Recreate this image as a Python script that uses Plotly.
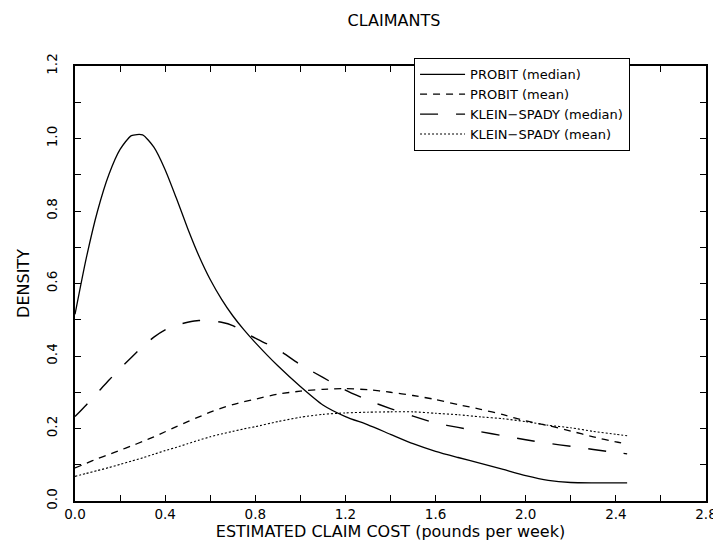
import plotly.graph_objects as go

# ---- data ----
cost = [0.0, 0.05, 0.1, 0.15, 0.2, 0.25, 0.3, 0.35, 0.4, 0.45, 0.5, 0.55, 0.6,
        0.65, 0.7, 0.75, 0.8, 0.9, 1.0, 1.1, 1.2, 1.3, 1.4, 1.5, 1.6, 1.7, 1.8,
        1.9, 2.0, 2.1, 2.2, 2.3, 2.4, 2.45]

probit_median = [0.515, 0.670, 0.800, 0.900, 0.970, 1.008, 1.010, 0.976, 0.914,
                 0.835, 0.752, 0.676, 0.611, 0.557, 0.511, 0.472, 0.437,
                 0.373, 0.316, 0.265, 0.233, 0.210, 0.184, 0.158, 0.137, 0.120,
                 0.104, 0.087, 0.070, 0.057, 0.051, 0.050, 0.050, 0.050]

probit_mean = [0.091, 0.104, 0.117, 0.128, 0.140, 0.152, 0.164, 0.177, 0.191,
               0.205, 0.219, 0.232, 0.245, 0.256, 0.266, 0.274, 0.281,
               0.295, 0.303, 0.308, 0.310, 0.307, 0.300, 0.291, 0.280, 0.266,
               0.253, 0.238, 0.221, 0.208, 0.193, 0.177, 0.163, 0.158]

ks_median = [0.233, 0.265, 0.299, 0.333, 0.365, 0.396, 0.426, 0.452, 0.472,
             0.485, 0.493, 0.498, 0.497, 0.493, 0.484, 0.466, 0.449,
             0.418, 0.376, 0.341, 0.306, 0.278, 0.255, 0.234, 0.215, 0.203,
             0.191, 0.180, 0.169, 0.159, 0.151, 0.142, 0.134, 0.130]

ks_mean = [0.068, 0.076, 0.084, 0.092, 0.101, 0.110, 0.119, 0.129, 0.139,
           0.148, 0.158, 0.168, 0.177, 0.185, 0.192, 0.199, 0.205,
           0.219, 0.231, 0.239, 0.243, 0.245, 0.246, 0.246, 0.242, 0.238,
           0.232, 0.227, 0.219, 0.209, 0.202, 0.192, 0.184, 0.180]

series_names = ["PROBIT (median)", "PROBIT (mean)",
                "KLEIN\u2212SPADY (median)", "KLEIN\u2212SPADY (mean)"]

x_ticks = [0.0, 0.2, 0.4, 0.6, 0.8, 1.0, 1.2, 1.4, 1.6, 1.8, 2.0, 2.2, 2.4, 2.6, 2.8]
x_tick_text = ["0.0", "", "0.4", "", "0.8", "", "1.2", "", "1.6", "", "2.0", "", "2.4", "", "2.8"]
y_ticks = [0.0, 0.1, 0.2, 0.3, 0.4, 0.5, 0.6, 0.7, 0.8, 0.9, 1.0, 1.1, 1.2]
y_tick_text = ["0.0", "", "0.2", "", "0.4", "", "0.6", "", "0.8", "", "1.0", "", "1.2"]

FONT = "DejaVu Sans"

fig = go.Figure()
styles = [
    ("solid", 1.3),
    ("7px,6px", 1.3),
    ("18px,18px", 1.4),
    ("2px,2px", 1.1),
]
for name, ys, (dash, w) in zip(series_names,
                               [probit_median, probit_mean, ks_median, ks_mean],
                               styles):
    fig.add_trace(go.Scatter(
        x=cost, y=ys, name=name, mode="lines",
        line=dict(color="black", width=w, dash=dash, shape="spline", smoothing=0.6),
    ))

axis_common = dict(
    showline=True, linecolor="black", linewidth=1.5, mirror="ticks",
    ticks="inside", ticklen=6, tickwidth=1.2, tickcolor="black",
    showgrid=False, zeroline=False,
    tickfont=dict(family=FONT, size=13.5, color="black"),
)

fig.update_layout(
    width=721, height=549,
    margin=dict(l=67, r=14, t=58, b=56),
    paper_bgcolor="white", plot_bgcolor="white",
    font=dict(family=FONT, color="black"),
    title=dict(text="CLAIMANTS", x=(386 / 721), xanchor="center",
               y=1 - 12 / 549, yanchor="middle",
               font=dict(family=FONT, size=16, color="black")),
    xaxis=dict(range=[0, 2.8], tickmode="array", tickvals=x_ticks, ticktext=x_tick_text,
               title=dict(text="ESTIMATED CLAIM COST (pounds per week)",
                          font=dict(family=FONT, size=16, color="black"), standoff=3),
               **axis_common),
    yaxis=dict(range=[0, 1.2], tickmode="array", tickvals=y_ticks, ticktext=y_tick_text,
               tickangle=-90, ticklabelstandoff=11,
               title=dict(text="DENSITY", font=dict(family=FONT, size=16, color="black"),
                          standoff=10),
               **axis_common),
    legend=dict(x=0.537, xanchor="left", y=1.018, yanchor="top",
                bgcolor="white", bordercolor="black", borderwidth=1.2,
                font=dict(family=FONT, size=13, color="black"),
                itemwidth=45, tracegroupgap=0),
    showlegend=True,
)

fig.write_html("out.html")
